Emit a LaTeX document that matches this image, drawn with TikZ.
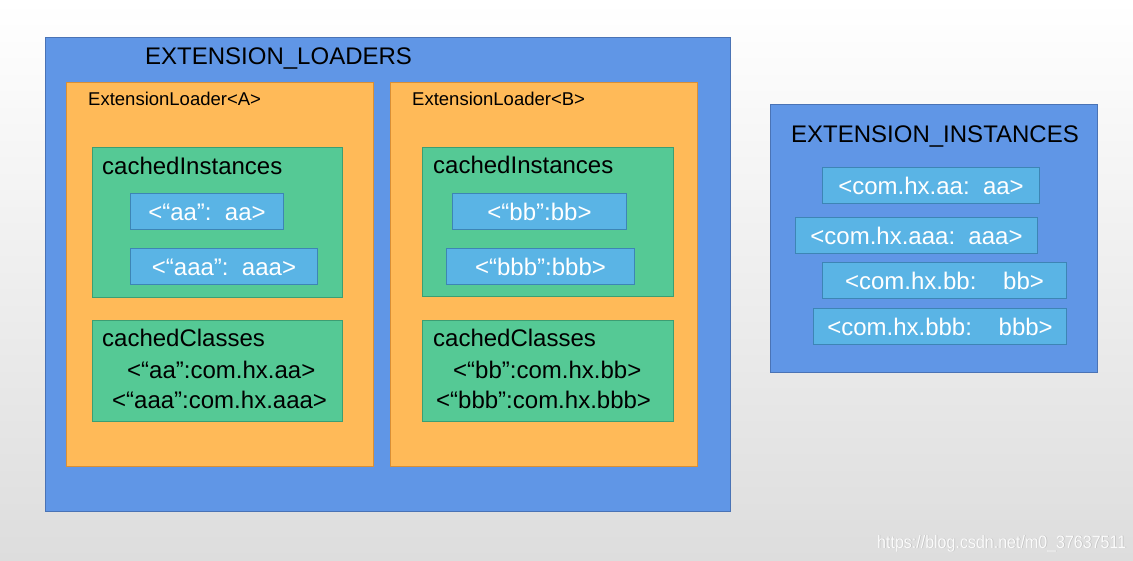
\documentclass[tikz,border=0pt]{standalone}
\usepackage{fontspec}
\setmainfont{Liberation Sans}
\definecolor{bluefill}{RGB}{96,150,230}
\definecolor{bluebd}{RGB}{74,115,181}
\definecolor{orfill}{RGB}{255,186,88}
\definecolor{orbd}{RGB}{217,143,53}
\definecolor{grfill}{RGB}{85,201,149}
\definecolor{grbd}{RGB}{60,158,115}
\definecolor{lbfill}{RGB}{90,180,229}
\definecolor{lbbd}{RGB}{61,133,181}
\definecolor{bgbot}{RGB}{221,221,221}
\tikzset{
  f24/.style={font=\fontsize{24}{28}\selectfont},
  f18/.style={font=\fontsize{18.5}{22}\selectfont},
  frame/.style={rectangle, anchor=north west, inner sep=0pt, line width=1pt},
  bigbox/.style={frame, draw=bluebd, fill=bluefill},
  loaderbox/.style={frame, draw=orbd, fill=orfill},
  mapbox/.style={frame, draw=grbd, fill=grfill},
  entrybox/.style={frame, draw=lbbd, fill=lbfill, text=white, f24, text height=17.2pt, text depth=0pt, align=center},
  label/.style={anchor=base west, inner sep=0pt, text=black},
}
\begin{document}
\begin{tikzpicture}[x=1pt,y=-1pt]
\useasboundingbox (0,0) rectangle (1133,561);
\shade[top color=white, bottom color=bgbot] (0,0) rectangle (1133,561);

% left big panel
\node[bigbox, minimum width=685pt, minimum height=474pt] (loaders) at (45,37) {};
\node[label, f24] (loaderstitle) at (145,65) {EXTENSION\_LOADERS};

% loader A
\node[loaderbox, minimum width=307pt, minimum height=384pt] (loaderA) at (66,82) {};
\node[label, f18] (loaderAtitle) at (88,106) {ExtensionLoader<A>};
\node[mapbox, minimum width=250pt, minimum height=150pt] (instA) at (92,147) {};
\node[label, f24] (instAtitle) at (102,175) {cachedInstances};
\node[entrybox, minimum width=153pt, minimum height=36pt] (instAaa) at (130,193) {<“aa”:\ \ aa>};
\node[entrybox, minimum width=187pt, minimum height=36pt] (instAaaa) at (130,248) {<“aaa”:\ \ aaa>};
\node[mapbox, minimum width=250pt, minimum height=101pt] (clsA) at (92,320) {};
\node[label, f24] (clsAtitle) at (102,347) {cachedClasses};
\node[label, f24] (clsAaa) at (127,378) {<“aa”:com.hx.aa>};
\node[label, f24] (clsAaaa) at (112,408) {<“aaa”:com.hx.aaa>};

% loader B
\node[loaderbox, minimum width=307pt, minimum height=384pt] (loaderB) at (390,82) {};
\node[label, f18] (loaderBtitle) at (412,106) {ExtensionLoader<B>};
\node[mapbox, minimum width=251pt, minimum height=149pt] (instB) at (422,147) {};
\node[label, f24] (instBtitle) at (433,174) {cachedInstances};
\node[entrybox, minimum width=174pt, minimum height=36pt] (instBbb) at (452,193) {<“bb”:bb>};
\node[entrybox, minimum width=188pt, minimum height=36pt] (instBbbb) at (446,248) {<“bbb”:bbb>};
\node[mapbox, minimum width=251pt, minimum height=101pt] (clsB) at (422,320) {};
\node[label, f24] (clsBtitle) at (433,347) {cachedClasses};
\node[label, f24] (clsBbb) at (453,378) {<“bb”:com.hx.bb>};
\node[label, f24] (clsBbbb) at (436,408) {<“bbb”:com.hx.bbb>};

% right panel
\node[bigbox, minimum width=327pt, minimum height=268pt] (instances) at (770,104) {};
\node[label, f24] (instancestitle) at (791,143) {EXTENSION\_INSTANCES};
\node[entrybox, minimum width=217pt, minimum height=36pt] (eaa) at (822,167) {<com.hx.aa:\ \ aa>};
\node[entrybox, minimum width=242pt, minimum height=36pt] (eaaa) at (795,217) {<com.hx.aaa:\ \ aaa>};
\node[entrybox, minimum width=244pt, minimum height=36pt] (ebb) at (822,262) {<com.hx.bb:\ \ \ \ bb>};
\node[entrybox, minimum width=253pt, minimum height=36pt] (ebbb) at (813,308) {<com.hx.bbb:\ \ \ \ bbb>};

% watermark
\node[label, text=black!25, font=\fontsize{18}{20}\selectfont, xscale=0.89] (wmshadow) at (877.7,548.7) {https://blog.csdn.net/m0\_37637511};
\node[label, text=white!97!gray, font=\fontsize{18}{20}\selectfont, xscale=0.89] (wm) at (877,548) {https://blog.csdn.net/m0\_37637511};
\end{tikzpicture}
\end{document}
